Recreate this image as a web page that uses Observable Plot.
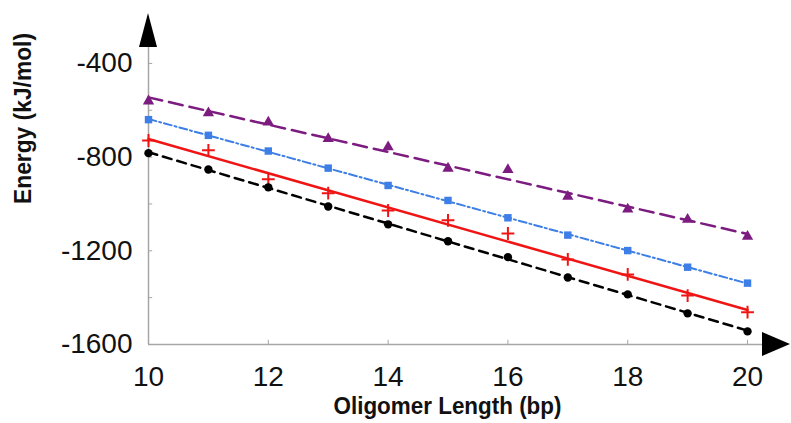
<!DOCTYPE html>
<html>
<head>
<meta charset="utf-8">
<script src="https://cdn.jsdelivr.net/npm/d3@7"></script>
<script src="https://cdn.jsdelivr.net/npm/@observablehq/plot@0.6"></script>
<style>
  html, body { margin: 0; padding: 0; background: white; }
</style>
</head>
<body>
<div id="chart"></div>
<script>
// ---- data ----
const lengths = [10, 11, 12, 13, 14, 15, 16, 17, 18, 19, 20];
const blackEnergy  = [-783, -853, -929, -1011, -1087, -1159, -1227, -1314, -1386, -1467, -1544];
const redEnergy    = [-729, -771, -895, -954, -1028, -1070, -1126, -1237, -1301, -1391, -1462];
const blueEnergy   = [-640, -707, -774, -847, -921, -985, -1059, -1133, -1199, -1270, -1338];
const purpleEnergy = [-561, -612, -651, -722, -757, -848, -854, -968, -1023, -1066, -1139];

const xTickLabels = [10, 12, 14, 16, 18, 20];
const yTickLabels = [-400, -800, -1200, -1600];
const yMinorTicks = [-400, -600, -800, -1000, -1200, -1400, -1600];
const xDomain = [10, 20.25];
const yDomain = [-1600, -332];
const xTitle = "Oligomer Length (bp)";
const yTitle = "Energy (kJ/mol)";

const toRows = (vals) => lengths.map((L, i) => ({L, E: vals[i]}));
const black = toRows(blackEnergy);
const red = toRows(redEnergy);
const blue = toRows(blueEnergy);
const purple = toRows(purpleEnergy);

const axisGray = "#a6a6a6";
const font = "'Liberation Sans', Arial, sans-serif";

function arrowHeads(index, scales) {
  const {x, y} = scales;
  const g = d3.create("svg:g");
  const x0 = x(xDomain[0]), yTop = y(yDomain[1]);
  g.append("path")
    .attr("d", `M${x0 - 9},${yTop} L${x0},${yTop - 34} L${x0 + 9},${yTop} Z`)
    .attr("fill", "black");
  const xEnd = x(xDomain[1]), y0 = y(yDomain[0]);
  g.append("path")
    .attr("d", `M${xEnd},${y0 - 12} L${xEnd + 28},${y0} L${xEnd},${y0 + 12} Z`)
    .attr("fill", "black");
  return g.node();
}

const chart = Plot.plot({
  width: 791,
  height: 423,
  marginLeft: 148,
  marginRight: 29,
  marginTop: 47,
  marginBottom: 79,
  style: {fontFamily: font, color: "#111", background: "white"},
  x: {domain: xDomain, axis: null},
  y: {domain: yDomain, axis: null},
  marks: [
    // axis lines
    Plot.ruleY([yDomain[0]], {stroke: axisGray, strokeWidth: 1.5}),
    Plot.ruleX([xDomain[0]], {stroke: axisGray, strokeWidth: 1.5}),
    // inward ticks
    Plot.ruleY(yMinorTicks, {x1: xDomain[0], x2: xDomain[0] + 0.07, stroke: axisGray, strokeWidth: 1}),
    Plot.ruleX(xTickLabels, {y1: yDomain[0], y2: yDomain[0] + 18, stroke: axisGray, strokeWidth: 1}),
    // tick labels
    Plot.text(yTickLabels, {x: xDomain[0], y: d => d, text: d => String(d), textAnchor: "end", dx: -16, fontSize: 28, fill: "#111"}),
    Plot.text(xTickLabels, {x: d => d, y: yDomain[0], text: d => String(d), dy: 33, fontSize: 28, fill: "#111"}),
    // fitted lines
    Plot.linearRegressionY(purple, {x: "L", y: "E", stroke: "#7d1c80", strokeWidth: 2.5, strokeDasharray: "14,7", ci: 0}),
    Plot.linearRegressionY(blue, {x: "L", y: "E", stroke: "#3d7fe6", strokeWidth: 2, strokeDasharray: "8,3,2,3", ci: 0}),
    Plot.linearRegressionY(red, {x: "L", y: "E", stroke: "#f01515", strokeWidth: 2.5, ci: 0}),
    Plot.linearRegressionY(black, {x: "L", y: "E", stroke: "#000", strokeWidth: 2.5, strokeDasharray: "9,6", ci: 0}),
    // markers
    Plot.dot(purple, {x: "L", y: "E", symbol: "triangle", fill: "#7d1c80", r: 4.2}),
    Plot.dot(blue, {x: "L", y: "E", symbol: "square", fill: "#3d7fe6", r: 4.2}),
    Plot.dot(red, {x: "L", y: "E", symbol: "plus", stroke: "#f01515", strokeWidth: 2, r: 4.2}),
    Plot.dot(black, {x: "L", y: "E", symbol: "circle", fill: "#000", r: 4.2}),
    // axis titles
    Plot.text([xTitle], {frameAnchor: "bottom", dx: -8, dy: 69, fontWeight: "bold", fontSize: 24, fill: "#111"}),
    Plot.text([yTitle], {frameAnchor: "left", rotate: -90, dx: -125, dy: 8, fontWeight: "bold", fontSize: 24, fill: "#111"}),
    arrowHeads
  ]
});
// condense the bold titles to the reference's narrower lettering
d3.select(chart).selectAll("text")
  .filter(function() { return this.textContent === xTitle; })
  .attr("textLength", 228).attr("lengthAdjust", "spacingAndGlyphs");
d3.select(chart).selectAll("text")
  .filter(function() { return this.textContent === yTitle; })
  .attr("textLength", 171).attr("lengthAdjust", "spacingAndGlyphs");
document.getElementById("chart").appendChild(chart);
</script>
</body>
</html>
